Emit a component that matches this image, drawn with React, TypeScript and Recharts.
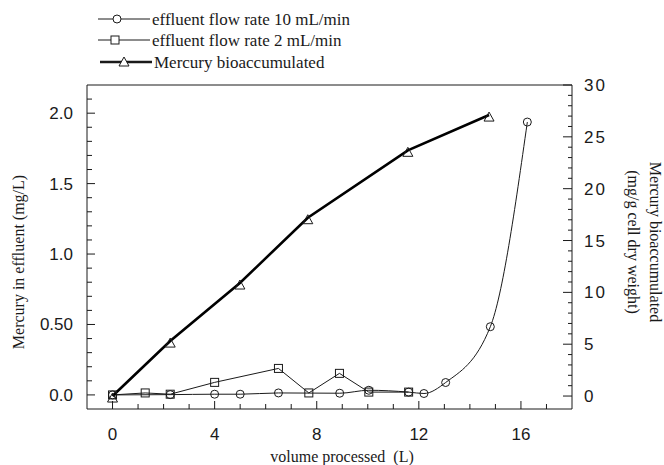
import React from "react";
import { LineChart, Line, XAxis, YAxis, ReferenceLine } from "recharts";

// effluent flow rate 10 mL/min  (left axis, mg/L)
const flow10Volume = [0, 2.26, 4.0, 5.0, 6.5, 8.9, 10.04, 11.6, 12.2, 13.05, 14.8, 16.25];
const flow10Mercury = [0, 0.002, 0.005, 0.005, 0.014, 0.012, 0.033, 0.02, 0.01, 0.088, 0.484, 1.937];

// effluent flow rate 2 mL/min  (left axis, mg/L)
const flow2Volume = [0, 1.28, 2.26, 4.0, 6.5, 7.69, 8.89, 10.04, 11.6];
const flow2Mercury = [0, 0.014, 0.005, 0.089, 0.188, 0.014, 0.153, 0.02, 0.02];

// Mercury bioaccumulated (right axis, mg/g cell dry weight)
const bioVolume = [0, 2.26, 4.99, 7.65, 11.57, 14.75];
const bioMercury = [0, 5.3, 10.9, 17.2, 23.7, 27.1];

const volumeTicks = [0, 4, 8, 12, 16];
const effluentTicks = [0, 0.5, 1.0, 1.5, 2.0];
const effluentTickLabels = ["0.0", "0.50", "1.0", "1.5", "2.0"];
const bioTicks = [0, 5, 10, 15, 20, 25, 30];

const legendLabels = [
  "effluent flow rate 10 mL/min",
  "effluent flow rate 2 mL/min",
  "Mercury bioaccumulated"
];

const xAxisTitle = "volume processed\u00a0 (L)";
const leftTitle = "Mercury in effluent (mg/L)";
const rightTitle = ["Mercury bioaccumulated", "(mg/g cell dry weight)"];

const W = 664;
const H = 465;
const PLOT_LEFT = 87;
const PLOT_RIGHT = 572;
const PLOT_TOP = 85;
const PLOT_BOTTOM = 409;

const INK = "#1a1a1a";
const SERIF = "'Liberation Serif', 'Times New Roman', serif";
const SANS = "'Liberation Sans', Arial, sans-serif";

const pairs = (xs: number[], ys: number[]) => xs.map((x, i) => ({ x, y: ys[i] }));
const flow10Data = pairs(flow10Volume, flow10Mercury);
const flow2Data = pairs(flow2Volume, flow2Mercury);
const bioData = pairs(bioVolume, bioMercury);

// minor tick positions (majors are in the arrays above)
const steps = (from: number, to: number, step: number) => {
  const out: number[] = [];
  for (let v = from; v <= to + 1e-9; v += step) out.push(Math.round(v * 100) / 100);
  return out;
};
const xAllTicks = steps(0, 17, 1);
const leftAllTicks = steps(0, 2.1, 0.1);
const rightAllTicks = steps(0, 30, 1);

const isMajor = (list: number[], v: number) => list.findIndex((t) => Math.abs(t - v) < 1e-6);

const BottomTick = (props: any) => {
  const { x, y, payload } = props;
  const idx = isMajor(volumeTicks, payload.value);
  return (
    <g>
      <line x1={x} x2={x} y1={y} y2={y - (idx >= 0 ? 8 : 5)} stroke={INK} />
      {idx >= 0 && (
        <text x={x} y={y + 31} textAnchor="middle" fontFamily={SANS} fontSize={17} fill={INK}>
          {volumeTicks[idx]}
        </text>
      )}
    </g>
  );
};

const LeftTick = (props: any) => {
  const { x, y, payload } = props;
  const idx = isMajor(effluentTicks, payload.value);
  return (
    <g>
      <line x1={x} x2={x + (idx >= 0 ? 8 : 5)} y1={y} y2={y} stroke={INK} />
      {idx >= 0 && (
        <text x={x - 14} y={y + 6} textAnchor="end" fontFamily={SANS} fontSize={17} fill={INK}>
          {effluentTickLabels[idx]}
        </text>
      )}
    </g>
  );
};

const RightTick = (props: any) => {
  const { x, y, payload } = props;
  const idx = isMajor(bioTicks, payload.value);
  return (
    <g>
      <line x1={x} x2={x - (idx >= 0 ? 9 : 4)} y1={y} y2={y} stroke={INK} />
      {idx >= 0 && (
        <text x={x + 12} y={y + 6} textAnchor="start" fontFamily={SANS} fontSize={17} letterSpacing={2} fill={INK}>
          {bioTicks[idx]}
        </text>
      )}
    </g>
  );
};

const circleDot = (props: any) => {
  const { cx, cy, index } = props;
  if (cx == null || cy == null) return <g key={`c${index}`} />;
  return <circle key={`c${index}`} cx={cx} cy={cy} r={4} fill="none" stroke={INK} strokeWidth={1} />;
};

const squareDot = (props: any) => {
  const { cx, cy, index } = props;
  if (cx == null || cy == null) return <g key={`s${index}`} />;
  return <rect key={`s${index}`} x={cx - 4} y={cy - 4} width={8} height={8} fill="none" stroke={INK} strokeWidth={1} />;
};

const triPoints = (cx: number, cy: number) =>
  `${cx},${cy - 3} ${cx - 5},${cy + 6} ${cx + 5},${cy + 6}`;

const triangleDot = (props: any) => {
  const { cx, cy, index } = props;
  if (cx == null || cy == null) return <g key={`t${index}`} />;
  return <polygon key={`t${index}`} points={triPoints(cx, cy)} fill="none" stroke={INK} strokeWidth={1} />;
};

const Overlay = () => {
  const rows = [19, 40, 62];
  const leftCy = 262;
  const rightCy = 242;
  return (
    <svg width={W} height={H} style={{ position: "absolute", left: 0, top: 0, pointerEvents: "none" }}>
      {/* legend */}
      <line x1={98} x2={150} y1={rows[0]} y2={rows[0]} stroke={INK} strokeWidth={1} />
      <circle cx={117} cy={rows[0]} r={4} fill="#fff" stroke={INK} />
      <line x1={98} x2={150} y1={rows[1]} y2={rows[1]} stroke={INK} strokeWidth={1} />
      <rect x={111} y={rows[1] - 4} width={8} height={8} fill="#fff" stroke={INK} />
      <line x1={100} x2={152} y1={rows[2]} y2={rows[2]} stroke={INK} strokeWidth={2.5} />
      <polygon points={triPoints(124, rows[2] - 2)} fill="#fff" stroke={INK} />
      {legendLabels.map((t, i) => (
        <text key={t} x={i === 2 ? 154 : 152} y={rows[i]} dominantBaseline="central" fontFamily={SERIF} fontSize={17} fill={INK}>
          {t}
        </text>
      ))}

      {/* axis titles */}
      <text x={342} y={462} textAnchor="middle" fontFamily={SERIF} fontSize={16} fill={INK}>
        {xAxisTitle}
      </text>
      <text
        x={18}
        y={leftCy}
        transform={`rotate(-90, 18, ${leftCy})`}
        textAnchor="middle"
        dominantBaseline="central"
        fontFamily={SERIF}
        fontSize={16}
        fill={INK}
      >
        {leftTitle}
      </text>
      {rightTitle.map((t, i) => {
        const cx = i === 0 ? 655 : 633;
        return (
          <text
            key={t}
            x={cx}
            y={rightCy}
            transform={`rotate(90, ${cx}, ${rightCy})`}
            textAnchor="middle"
            dominantBaseline="central"
            fontFamily={SERIF}
            fontSize={16}
            fill={INK}
          >
            {t}
          </text>
        );
      })}
    </svg>
  );
};

export default function App() {
  return (
    <div style={{ position: "absolute", left: 0, top: 0, width: W, height: H, background: "#fff" }}>
      <LineChart
        width={W}
        height={H}
        margin={{ top: PLOT_TOP, right: 0, bottom: 0, left: 0 }}
      >
        <XAxis
          dataKey="x"
          type="number"
          domain={[-1, 18]}
          ticks={xAllTicks}
          interval={0}
          allowDataOverflow
          height={H - PLOT_BOTTOM}
          tickSize={0}
          tickMargin={0}
          tick={<BottomTick />}
          axisLine={{ stroke: INK }}
        />
        <YAxis
          yAxisId="left"
          type="number"
          domain={[-0.1, 2.2]}
          ticks={leftAllTicks}
          interval={0}
          allowDataOverflow
          width={PLOT_LEFT}
          tickSize={0}
          tickMargin={0}
          tick={<LeftTick />}
          axisLine={{ stroke: INK }}
        />
        <YAxis
          yAxisId="right"
          orientation="right"
          type="number"
          domain={[-1.25, 30]}
          ticks={rightAllTicks}
          interval={0}
          allowDataOverflow
          width={W - PLOT_RIGHT}
          tickSize={0}
          tickMargin={0}
          tick={<RightTick />}
          axisLine={{ stroke: INK }}
        />
        <ReferenceLine yAxisId="left" y={2.2} stroke={INK} />
        <Line
          yAxisId="left"
          data={flow10Data}
          dataKey="y"
          type="monotone"
          stroke={INK}
          strokeWidth={1}
          dot={circleDot}
          activeDot={false}
          isAnimationActive={false}
        />
        <Line
          yAxisId="left"
          data={flow2Data}
          dataKey="y"
          type="linear"
          stroke={INK}
          strokeWidth={1}
          dot={squareDot}
          activeDot={false}
          isAnimationActive={false}
        />
        <Line
          yAxisId="right"
          data={bioData}
          dataKey="y"
          type="linear"
          stroke="#000"
          strokeWidth={2.6}
          dot={triangleDot}
          activeDot={false}
          isAnimationActive={false}
        />
      </LineChart>
      <Overlay />
    </div>
  );
}
